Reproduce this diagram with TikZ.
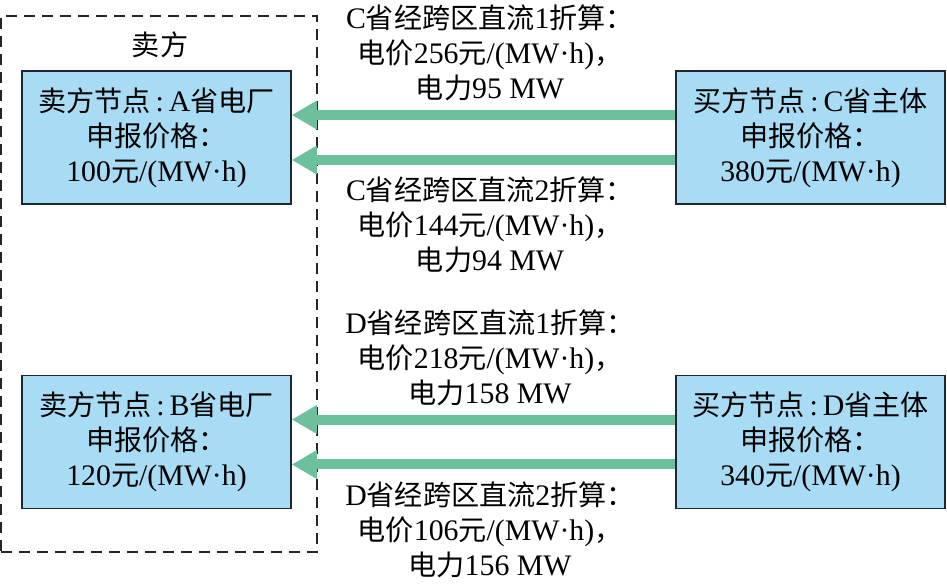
\documentclass[tikz,border=0pt]{standalone}
\usepackage{fontspec}
\setmainfont{Liberation Serif}[Scale=1.06]
\newfontfamily\cjkfont{Noto Sans CJK SC}
\newcommand{\zh}[1]{{\cjkfont #1}}
\usetikzlibrary{arrows.meta}
\definecolor{boxblue}{RGB}{168,220,244}
\definecolor{boxline}{RGB}{30,40,50}
\definecolor{flowgreen}{RGB}{108,193,156}

\begin{document}
\begin{tikzpicture}[x=0.02cm, y=-0.02cm,
    party/.style={draw=boxline, line width=0.9pt, fill=boxblue, align=center,
      minimum width=5.38cm, minimum height=2.66cm, inner sep=0pt,
      font=\fontsize{16}{20}\selectfont},
    price/.style={align=center, font=\fontsize{16}{20}\selectfont},
    flow/.style={draw=flowgreen, line width=0.2cm,
      -{Triangle[width=0.54cm, length=0.5cm]}}]
  \useasboundingbox (0,0) rectangle (947,587);
  % seller zone
  \node[draw=black!85, dash pattern=on 0.22cm off 0.14cm, line width=0.9pt,
    minimum width=6.32cm, minimum height=10.72cm, inner sep=0pt] (zone) at (159,284) {};
  \node[font=\fontsize{16}{20}\selectfont] (zonelbl) at (160,45) {\zh{卖方}};

  % sellers and buyers
  \node[party] (A) at (156.5,137.5) {\zh{卖方节点}\,:\,A\zh{省电厂}\\\zh{申报价格：}\\100\zh{元}/(MW·h)};
  \node[party] (B) at (156.5,442) {\zh{卖方节点}\,:\,B\zh{省电厂}\\\zh{申报价格：}\\120\zh{元}/(MW·h)};
  \node[party] (C) at (810.5,137.5) {\zh{买方节点}\,:\,C\zh{省主体}\\\zh{申报价格：}\\380\zh{元}/(MW·h)};
  \node[party] (D) at (810.5,442) {\zh{买方节点}\,:\,D\zh{省主体}\\\zh{申报价格：}\\340\zh{元}/(MW·h)};

  % flows
  \draw[flow] ([yshift=0.45cm]C.west) -- ([yshift=0.45cm]A.east);
  \draw[flow] ([yshift=-0.45cm]C.west) -- ([yshift=-0.45cm]A.east);
  \draw[flow] ([yshift=0.45cm]D.west) -- ([yshift=0.45cm]B.east);
  \draw[flow] ([yshift=-0.45cm]D.west) -- ([yshift=-0.45cm]B.east);

  % flow labels
  \node[price] (lblC1) at (490,53) {C\zh{省经跨区直流}1\zh{折算：}\\\zh{电价}256\zh{元}/(MW·h)\zh{，}\\\zh{电力}95 MW};
  \node[price] (lblC2) at (490,225) {C\zh{省经跨区直流}2\zh{折算：}\\\zh{电价}144\zh{元}/(MW·h)\zh{，}\\\zh{电力}94 MW};
  \node[price] (lblD1) at (490,358) {D\zh{省经跨区直流}1\zh{折算：}\\\zh{电价}218\zh{元}/(MW·h)\zh{，}\\\zh{电力}158 MW};
  \node[price] (lblD2) at (490,530) {D\zh{省经跨区直流}2\zh{折算：}\\\zh{电价}106\zh{元}/(MW·h)\zh{，}\\\zh{电力}156 MW};
\end{tikzpicture}
\end{document}
